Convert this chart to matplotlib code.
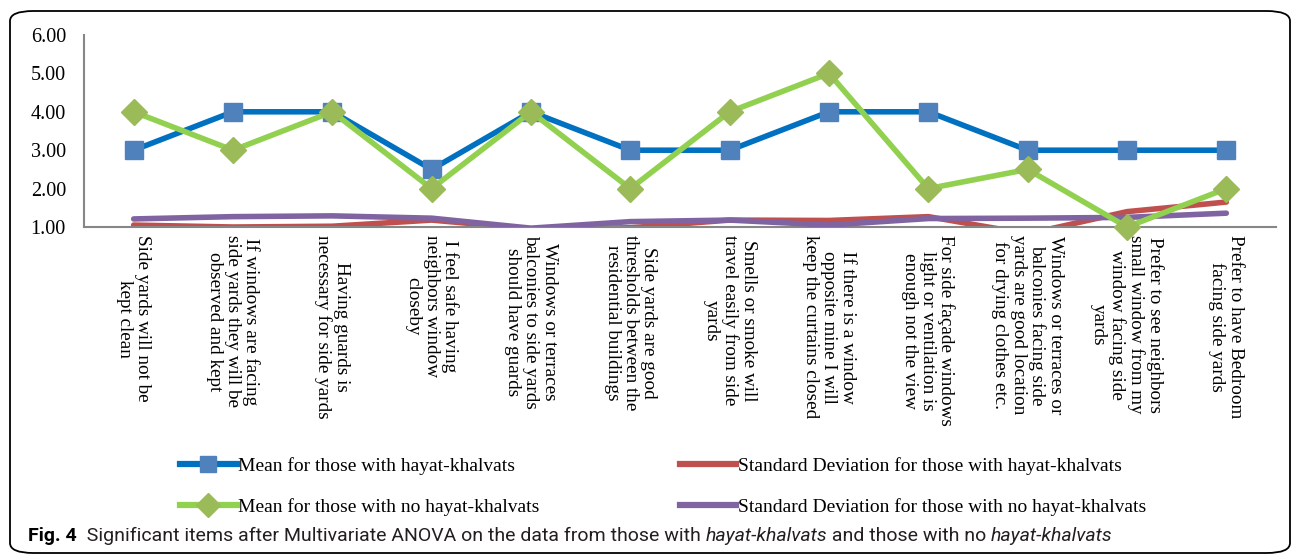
import matplotlib
matplotlib.use("Agg")
import matplotlib.pyplot as plt
from matplotlib.patches import FancyBboxPatch
from matplotlib.lines import Line2D

# dati
items = [
    "Side yards will not be\nkept clean",
    "If windows are facing\nside yards they will be\nobserved and kept",
    "Having guards is\nnecessary for side yards",
    "I feel safe having\nneighbors window\ncloseby",
    "Windows or terraces\nbalconies to side yards\nshould have guards",
    "Side yards are good\nthresholds between the\nresidential buildings",
    "Smells or smoke will\ntravel easily from side\nyards",
    "If there is a window\nopposite mine I will\nkeep the curtains closed",
    "For side façade windows\nlight or ventilation is\nenough not the view",
    "Windows or terraces or\nbalconies facing side\nyards are good location\nfor drying clothes etc.",
    "Prefer to see neighbors\nsmall window from my\nwindow facing side\nyards",
    "Prefer to have Bedroom\nfacing side yards",
]
mean_with = [3, 4, 4, 2.5, 4, 3, 3, 4, 4, 3, 3, 3]
mean_without = [4, 3, 4, 2, 4, 2, 4, 5, 2, 2.5, 1, 2]
sd_with = [1.05, 1.00, 1.02, 1.18, 0.95, 0.98, 1.18, 1.17, 1.27, 0.82, 1.40, 1.65]
sd_without = [1.21, 1.27, 1.29, 1.23, 0.97, 1.14, 1.18, 1.05, 1.22, 1.23, 1.25, 1.36]

labels = ["Mean for those with hayat-khalvats",
          "Mean for those with no hayat-khalvats",
          "Standard Deviation for those with hayat-khalvats",
          "Standard Deviation for those with no hayat-khalvats"]

serif = "Liberation Serif"

fig = plt.figure(figsize=(12.98, 5.54), dpi=100)
ax = fig.add_axes([84 / 1298, 1 - 227 / 554, (1276 - 84) / 1298, (227 - 35) / 554])

x = list(range(len(items)))
ax.plot(x, sd_with, color="#C0504D", lw=4, zorder=2, solid_capstyle="round")
ax.plot(x, sd_without, color="#8064A2", lw=4, zorder=3, solid_capstyle="round")
ax.plot(x, mean_with, color="#0070C0", lw=4, marker="s", ms=13,
        mfc="#4F81BD", mec="#4F81BD", zorder=4, clip_on=False)
ax.plot(x, mean_without, color="#92D050", lw=4, marker="D", ms=13,
        mfc="#9BBB59", mec="#9BBB59", zorder=5, clip_on=False)

ax.set_xlim(-0.5, len(items) - 0.5)
ax.set_ylim(1, 6)
ax.set_yticks([1, 2, 3, 4, 5, 6])
ax.set_yticklabels([f"{v:.2f}" for v in [1, 2, 3, 4, 5, 6]], fontfamily=serif, fontsize=14.5)
ax.set_xticks(x)
ax.set_xticklabels(items, rotation=270, ha="center", va="top", multialignment="center",
                   fontfamily=serif, fontsize=13.8, linespacing=1.08)
ax.tick_params(axis="y", length=0, pad=13)
ax.tick_params(axis="x", length=0, pad=6)
for s in ["top", "right"]:
    ax.spines[s].set_visible(False)
for s in ["left", "bottom"]:
    ax.spines[s].set_color("#868686")
    ax.spines[s].set_linewidth(1.5)

# legenda
handles = [
    Line2D([], [], color="#0070C0", lw=4.5, marker="s", ms=12, mfc="#4F81BD", mec="#4F81BD"),
    Line2D([], [], color="#92D050", lw=4.5, marker="D", ms=12, mfc="#9BBB59", mec="#9BBB59"),
    Line2D([], [], color="#C0504D", lw=4.5),
    Line2D([], [], color="#8064A2", lw=4.5),
]
fig.legend(handles, labels, loc="center", bbox_to_anchor=(0.511, 0.122), ncol=2,
           frameon=False, prop={"family": serif, "size": 14}, handlelength=2.9,
           handletextpad=0.1, columnspacing=7.2, labelspacing=1.2, numpoints=1)

# didascalia, a pezzi per avere il corsivo
cap_font = "Roboto"
cap_size = 14
t = fig.text(28 / 1298, 1 - 541 / 554, "Fig. 4", fontfamily=cap_font, fontweight="bold",
             fontsize=cap_size, va="baseline")
pieces = [("  Significant items after Multivariate ANOVA on the data from those with ", "normal"),
          ("hayat-khalvats", "italic"),
          (" and those with no ", "normal"),
          ("hayat-khalvats", "italic")]
for txt, style in pieces:
    t = fig.add_artist(plt.Annotation(txt, xy=(1, 0), xycoords=t, va="bottom", ha="left",
                                      fontfamily=cap_font, fontstyle=style, fontsize=cap_size,
                                      color="#231F20"))

# cornice arrotondata
box = FancyBboxPatch((10 / 1298, 1 / 554), (1290 - 10) / 1298, (543 - 1) / 554,
                     boxstyle="round,pad=0,rounding_size=0.018", transform=fig.transFigure,
                     fill=False, ec="black", lw=1.3)
fig.add_artist(box)

fig.savefig("out.png", dpi=100)
